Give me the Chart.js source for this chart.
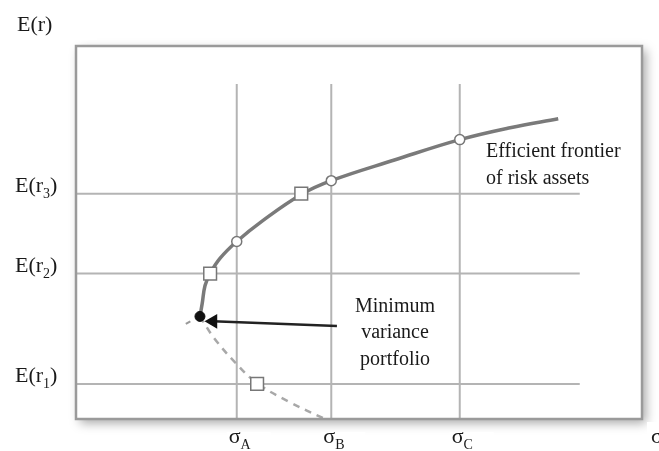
<!DOCTYPE html>
<html>
<head>
    <title>Efficient Frontier</title>
    <script src="https://cdn.jsdelivr.net/npm/chart.js"></script>
    <style>
        body { margin: 0; background: #fff; }
    </style>
</head>
<body>
    <canvas id="frontierChart" width="659" height="451"></canvas>

    <script>
        // axis ticks (diagram units)
        const sigmaLabels = ['A', 'B', 'C'];
        const sigmaValues = [2.84, 4.51, 6.78];
        const returnLabels = ['1', '2', '3'];
        const returnValues = [0.94, 3.90, 6.04];

        // efficient frontier (upper branch, solid)
        const frontierX = [2.19, 2.23, 2.28, 2.37, 2.54, 2.84, 3.30, 3.98, 4.51, 5.64, 6.78, 7.67, 8.52];
        const frontierY = [2.75, 3.10, 3.58, 3.90, 4.30, 4.76, 5.32, 6.02, 6.39, 6.95, 7.49, 7.81, 8.05];

        // lower branch (dashed)
        const lowerX = [2.19, 2.44, 2.81, 3.20, 3.78, 4.40];
        const lowerY = [2.75, 2.17, 1.52, 0.96, 0.45, 0.00];
        const stubX = [2.02, 1.94];
        const stubY = [2.62, 2.55];

        // markers
        const circleY = [4.76, 6.39, 7.49];   // on sigma A, B, C
        const squareX = [3.20, 2.37, 3.98];   // on E(r1), E(r2), E(r3)
        const minVar = { x: 2.19, y: 2.75 };
        const arrowX = [4.61, 2.42];
        const arrowY = [2.49, 2.62];

        const gridTop = 8.98;
        const gridRight = 8.9;

        const toPts = (xs, ys) => xs.map((x, i) => ({ x: x, y: ys[i] }));

        const gridSets = [];
        sigmaValues.forEach(s => gridSets.push({
            data: [{ x: s, y: 0 }, { x: s, y: gridTop }],
            borderColor: '#b4b4b4', borderWidth: 2, pointRadius: 0, showLine: true, order: 5
        }));
        returnValues.forEach(r => gridSets.push({
            data: [{ x: 0, y: r }, { x: gridRight, y: r }],
            borderColor: '#b4b4b4', borderWidth: 2, pointRadius: 0, showLine: true, order: 5
        }));

        const serif = '"Liberation Serif", "DejaVu Serif", serif';

        function subText(ctx, x, y, main, sub, tail, size) {
            ctx.font = size + 'px ' + serif;
            ctx.fillText(main, x, y);
            x += ctx.measureText(main).width;
            ctx.font = Math.round(size * 0.62) + 'px ' + serif;
            ctx.fillText(sub, x, y + 6);
            x += ctx.measureText(sub).width;
            ctx.font = size + 'px ' + serif;
            if (tail) ctx.fillText(tail, x, y);
        }

        const framePlugin = {
            id: 'frame',
            beforeDraw(chart) {
                const ctx = chart.ctx;
                const a = chart.chartArea;
                ctx.save();
                ctx.fillStyle = '#fff';
                ctx.fillRect(0, 0, chart.width, chart.height);
                ctx.shadowColor = 'rgba(0,0,0,0.35)';
                ctx.shadowBlur = 10;
                ctx.shadowOffsetX = 4;
                ctx.shadowOffsetY = 4;
                ctx.fillRect(a.left, a.top, a.right - a.left, a.bottom - a.top);
                ctx.restore();
            },
            afterDraw(chart) {
                const ctx = chart.ctx;
                const a = chart.chartArea;
                const xs = chart.scales.x;
                const ys = chart.scales.y;
                ctx.save();
                ctx.strokeStyle = '#9a9a9a';
                ctx.lineWidth = 2.5;
                ctx.strokeRect(a.left, a.top, a.right - a.left, a.bottom - a.top);

                // white patches behind labels
                ctx.fillStyle = '#fff';
                ctx.fillRect(0, 0, 97, 40);
                sigmaValues.forEach(s => {
                    const px = xs.getPixelForValue(s);
                    ctx.fillRect(px - 10, 432, 44, 19);
                });
                ctx.fillRect(647, 422, 12, 29);

                ctx.fillStyle = '#1a1a1a';
                ctx.textBaseline = 'alphabetic';
                ctx.textAlign = 'left';
                ctx.font = '22px ' + serif;
                ctx.fillText('E(r)', 17, 31);
                returnValues.forEach((r, i) => {
                    const py = ys.getPixelForValue(r);
                    subText(ctx, 15, py - 2, 'E(r', returnLabels[i], ')', 22);
                });
                sigmaValues.forEach((s, i) => {
                    const px = xs.getPixelForValue(s);
                    subText(ctx, px - 8, 443, '\u03c3', sigmaLabels[i], '', 22);
                });
                ctx.font = '22px ' + serif;
                ctx.fillText('\u03c3', 651, 443);

                ctx.font = '20px ' + serif;
                ctx.fillText('Efficient frontier', 486, 157);
                ctx.fillText('of risk assets', 486, 184);
                ctx.textAlign = 'center';
                ctx.fillText('Minimum', 395, 312);
                ctx.fillText('variance', 395, 338);
                ctx.fillText('portfolio', 395, 365);
                ctx.restore();
            }
        };

        const ctx = document.getElementById('frontierChart').getContext('2d');
        const frontierChart = new Chart(ctx, {
            type: 'scatter',
            data: {
                datasets: [
                    {
                        data: [minVar],
                        pointRadius: 5, pointBackgroundColor: '#111', pointBorderColor: '#111',
                        order: 0
                    },
                    {
                        data: toPts(sigmaValues, circleY),
                        pointStyle: 'circle', pointRadius: 5, pointBorderWidth: 1.5,
                        pointBackgroundColor: '#fff', pointBorderColor: '#777',
                        order: 0
                    },
                    {
                        data: toPts(squareX, returnValues),
                        pointStyle: 'rect', pointRadius: 9, pointBorderWidth: 1.5,
                        pointBackgroundColor: '#fff', pointBorderColor: '#777',
                        order: 0
                    },
                    {
                        data: toPts(arrowX, arrowY),
                        showLine: true, borderColor: '#222', borderWidth: 2.5,
                        pointStyle: 'triangle', pointRotation: 270,
                        pointRadius: [0, 6], pointBackgroundColor: '#111', pointBorderColor: '#111',
                        order: 1
                    },
                    {
                        data: toPts(frontierX, frontierY),
                        showLine: true, tension: 0.4, borderColor: '#7a7a7a', borderWidth: 3.5,
                        pointRadius: 0, order: 2
                    },
                    {
                        data: toPts(lowerX, lowerY),
                        showLine: true, tension: 0.4, borderColor: '#a8a8a8', borderWidth: 2.5,
                        borderDash: [7, 6], pointRadius: 0, order: 2
                    },
                    {
                        data: toPts(stubX, stubY),
                        showLine: true, borderColor: '#999', borderWidth: 2,
                        pointRadius: 0, order: 2
                    },
                    ...gridSets
                ]
            },
            options: {
                responsive: false,
                animation: false,
                layout: { padding: { left: 76, top: 46, right: 17, bottom: 32 } },
                plugins: { legend: { display: false }, tooltip: { enabled: false } },
                scales: {
                    x: { type: 'linear', display: false, min: 0, max: 10 },
                    y: { type: 'linear', display: false, min: 0, max: 10 }
                }
            },
            plugins: [framePlugin]
        });
    </script>
</body>
</html>
